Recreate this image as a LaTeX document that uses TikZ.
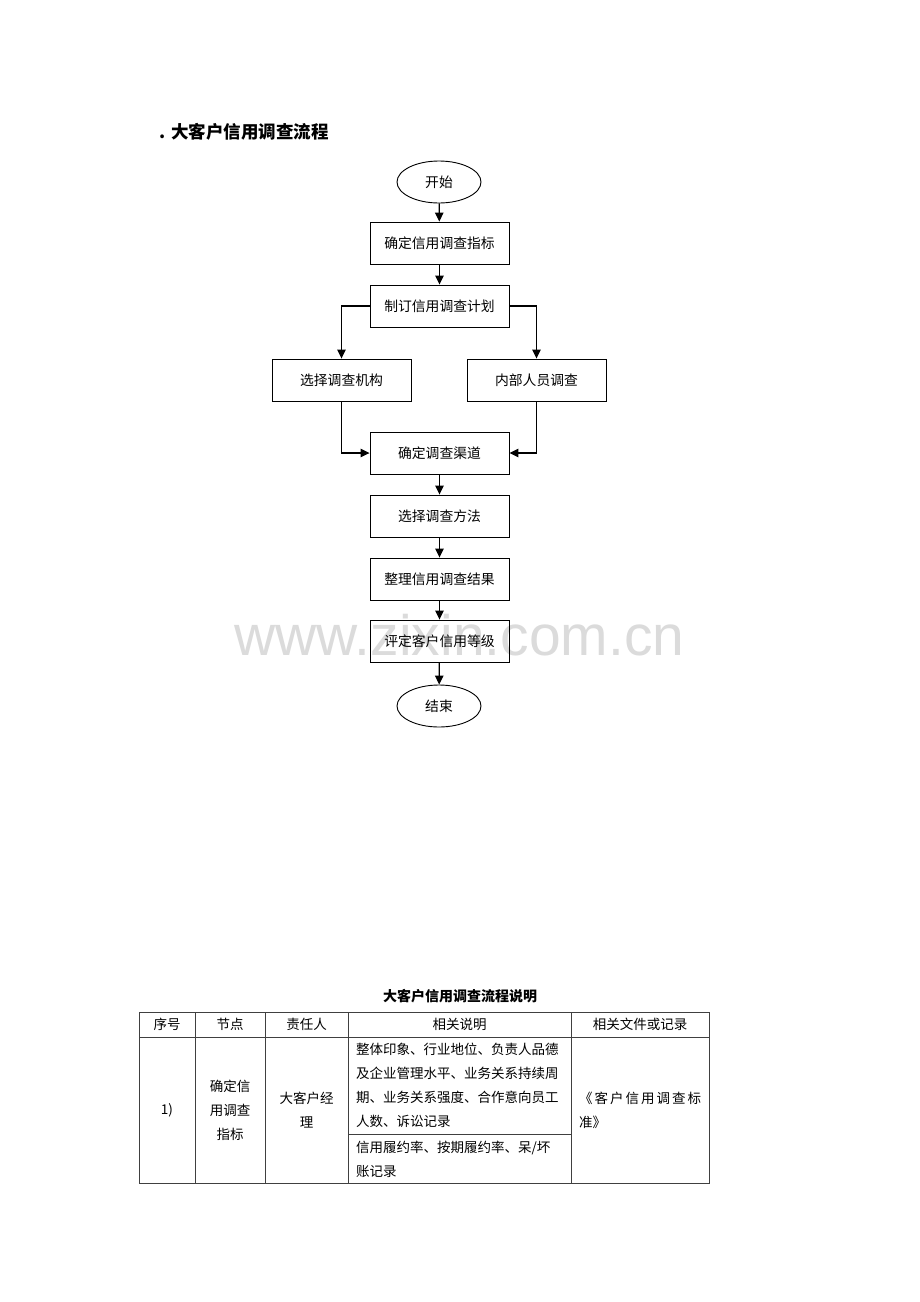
\documentclass[tikz,border=0pt]{standalone}
\usepackage{fontspec}
\setmainfont{Noto Sans CJK SC}
\newfontfamily\wmfont{Liberation Sans}
\usetikzlibrary{arrows.meta,shapes.geometric}
\begin{document}
\begin{tikzpicture}[x=1pt,y=-1pt,
  every node/.style={font=\fontsize{13.8pt}{16pt}\selectfont},
  proc/.style={draw,line width=0.9pt,minimum width=139pt,minimum height=42pt,inner sep=0pt},
  term/.style={draw,ellipse,line width=0.9pt,minimum width=84pt,minimum height=42pt,inner sep=0pt},
  flow/.style={line width=1.2pt,-{Triangle[length=9pt,width=8.5pt]}},
  grid/.style={line width=0.8pt,draw=black!75},
  cell/.style={inner sep=0pt,font=\fontsize{13.5pt}{24pt}\selectfont}]
\useasboundingbox (0,0) rectangle (920,1302);
\fill[white] (0,0) rectangle (920,1302);
% watermark
\node[anchor=base,inner sep=0pt,text=black!14,font=\wmfont\fontsize{57pt}{60pt}\selectfont] (wm) at (459.5,655) {www.zixin.com.cn};
% title
\node[anchor=west,inner sep=0pt,font=\fontsize{17.5pt}{20pt}\selectfont\bfseries] (title) at (159,132) {.\,\,大客户信用调查流程};
% flowchart
\node[term] (start) at (439,182) {开始};
\node[proc] (b1) at (439.5,243) {确定信用调查指标};
\node[proc] (b2) at (439.5,306) {制订信用调查计划};
\node[proc] (b3) at (341.5,380) {选择调查机构};
\node[proc] (b4) at (536.5,380) {内部人员调查};
\node[proc] (b5) at (439.5,453) {确定调查渠道};
\node[proc] (b6) at (439.5,516) {选择调查方法};
\node[proc] (b7) at (439.5,579) {整理信用调查结果};
\node[proc] (b8) at (439.5,641) {评定客户信用等级};
\node[term] (end) at (439,706) {结束};
\draw[flow] (start) -- (b1);
\draw[flow] (b1) -- (b2);
\draw[flow] (b2.west) -| (b3.north);
\draw[flow] (b2.east) -| (b4.north);
\draw[flow] (b3.south) |- (b5.west);
\draw[flow] (b4.south) |- (b5.east);
\draw[flow] (b5) -- (b6);
\draw[flow] (b6) -- (b7);
\draw[flow] (b7) -- (b8);
\draw[flow] (b8) -- (end);
% table title
\node[inner sep=0pt,font=\fontsize{14pt}{16pt}\selectfont\bfseries] (ttitle) at (460,996) {大客户信用调查流程说明};
% table grid
\draw[grid] (139,1012) rectangle (709,1183);
\draw[grid] (139,1037) -- (709,1037);
\foreach \x in {195,265,348,571} \draw[grid] (\x,1012) -- (\x,1183);
\draw[grid] (348,1134) -- (571,1134);
% header
\node[cell] (h1) at (167,1024.5) {序号};
\node[cell] (h2) at (230,1024.5) {节点};
\node[cell] (h3) at (306.5,1024.5) {责任人};
\node[cell] (h4) at (459.5,1024.5) {相关说明};
\node[cell] (h5) at (640,1024.5) {相关文件或记录};
% body
\node[cell] (c1) at (167,1110) {1)};
\node[cell,align=center] (c2) at (230,1110) {确定信\\用调查\\指标};
\node[cell,align=center] (c3) at (306.5,1110) {大客户经\\理};
\node[cell,anchor=north west,align=left] (c4a) at (356,1043) {整体印象、行业地位、负责人品德\\及企业管理水平、业务关系持续周\\期、业务关系强度、合作意向员工\\人数、诉讼记录};
\node[cell,anchor=north west,align=left] (c4b) at (356,1141) {信用履约率、按期履约率、呆/坏\\账记录};
\node[cell,anchor=north west,align=left] (c5) at (579,1092) {\makebox[122pt][s]{《\hfill 客\hfill 户\hfill 信\hfill 用\hfill 调\hfill 查\hfill 标}\\准》};
\end{tikzpicture}
\end{document}
